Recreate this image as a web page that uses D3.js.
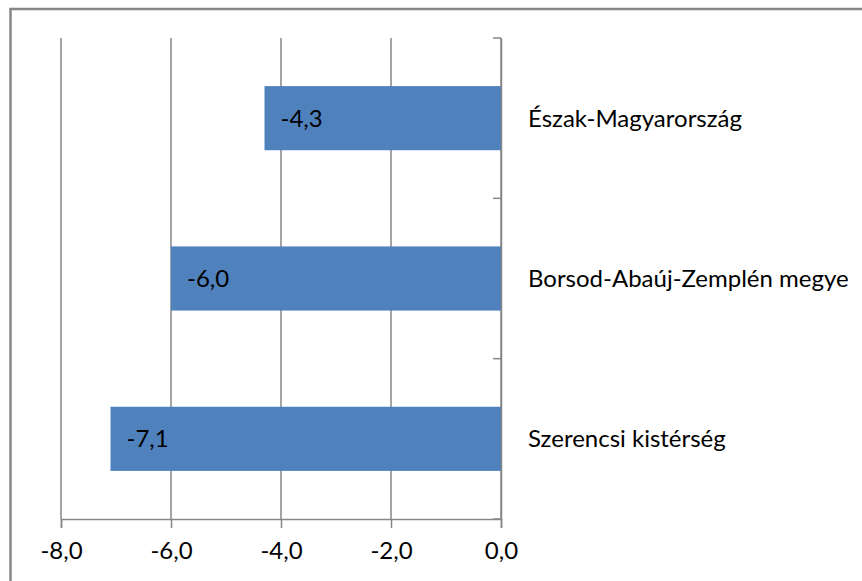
<!DOCTYPE html>
<html>
<head>
<meta charset="utf-8">
<script src="https://cdn.jsdelivr.net/npm/d3@7"></script>
<style>
  body { margin: 0; background: #fff; }
  text { font-family: Lato, "Open Sans", sans-serif; fill: #000; }
</style>
</head>
<body>
<div id="chart"></div>
<script>
var w = 862;
var h = 581;

// values
var categories = ["Észak-Magyarország", "Borsod-Abaúj-Zemplén megye", "Szerencsi kistérség"];
var values = [-4.3, -6.0, -7.1];
var ticks = [-8, -6, -4, -2, 0];

var fmt = function(v) { return v.toFixed(1).replace(".", ","); };

var svg = d3.select("#chart")
            .append("svg")
                .attr("width", w)
                .attr("height", h);

// chart frame (right and bottom edges fall outside the picture)
svg.append("rect")
    .attr("x", 10.5)
    .attr("y", 9)
    .attr("width", 900)
    .attr("height", 600)
    .attr("fill", "none")
    .attr("stroke", "#868686")
    .attr("stroke-width", 2.5);

var x = d3.scaleLinear()
    .domain([-8, 0])
    .range([61, 501]);

var y = d3.scaleBand()
    .domain(categories)
    .range([38, 519])
    .paddingInner(0.6)
    .paddingOuter(0.3);

// vertical gridlines
svg.append("g")
    .selectAll("line")
    .data(ticks)
    .enter()
        .append("line")
        .attr("x1", function(d) { return x(d); })
        .attr("x2", function(d) { return x(d); })
        .attr("y1", 38)
        .attr("y2", 519)
        .attr("stroke", "#868686")
        .attr("stroke-width", 1.5);

// bars
var bars = svg.selectAll("g.bar")
    .data(values)
    .enter()
        .append("g")
        .attr("class", "bar");

bars.append("rect")
    .attr("x", function(d) { return x(d); })
    .attr("y", function(d, i) { return y(categories[i]); })
    .attr("width", function(d) { return x(0) - x(d); })
    .attr("height", y.bandwidth())
    .attr("fill", "#4F81BD");

bars.append("text")
    .attr("x", function(d) { return x(d) + 16; })
    .attr("y", function(d, i) { return y(categories[i]) + y.bandwidth() / 2; })
    .attr("dy", "0.35em")
    .style("font-size", "24px")
    .text(function(d) { return fmt(d); });

// x axis at the bottom
var xAxis = d3.axisBottom(x)
    .tickValues(ticks)
    .tickSize(9)
    .tickPadding(14)
    .tickFormat(fmt);

var gx = svg.append("g")
    .attr("transform", "translate(0,519)")
    .call(xAxis);
gx.select(".domain").attr("stroke", "#868686").attr("stroke-width", 1.5);
gx.selectAll(".tick line").attr("stroke", "#868686").attr("stroke-width", 1.5);
gx.selectAll(".tick text")
    .attr("fill", "#000")
    .style("font-size", "24px")
    .style("font-family", "Lato, sans-serif");

// category axis at zero, labels on the right
var yAxis = d3.axisLeft(y)
    .tickSize(0)
    .tickFormat("");

var gy = svg.append("g")
    .attr("transform", "translate(" + x(0) + ",0)")
    .call(yAxis);
gy.select(".domain").attr("stroke", "#868686").attr("stroke-width", 1.5);

// tick marks between categories
var step = y.step();
var bounds = d3.range(categories.length + 1).map(function(i) { return 38 + i * (519 - 38) / categories.length; });
gy.selectAll("line.sep")
    .data(bounds)
    .enter()
        .append("line")
        .attr("class", "sep")
        .attr("x1", -8)
        .attr("x2", 0)
        .attr("y1", function(d) { return d; })
        .attr("y2", function(d) { return d; })
        .attr("stroke", "#868686")
        .attr("stroke-width", 1.5);

svg.append("g")
    .selectAll("text")
    .data(categories)
    .enter()
        .append("text")
        .attr("x", 528)
        .attr("y", function(d) { return y(d) + y.bandwidth() / 2; })
        .attr("dy", "0.35em")
        .style("font-size", "24px")
        .text(function(d) { return d; });
</script>
</body>
</html>
